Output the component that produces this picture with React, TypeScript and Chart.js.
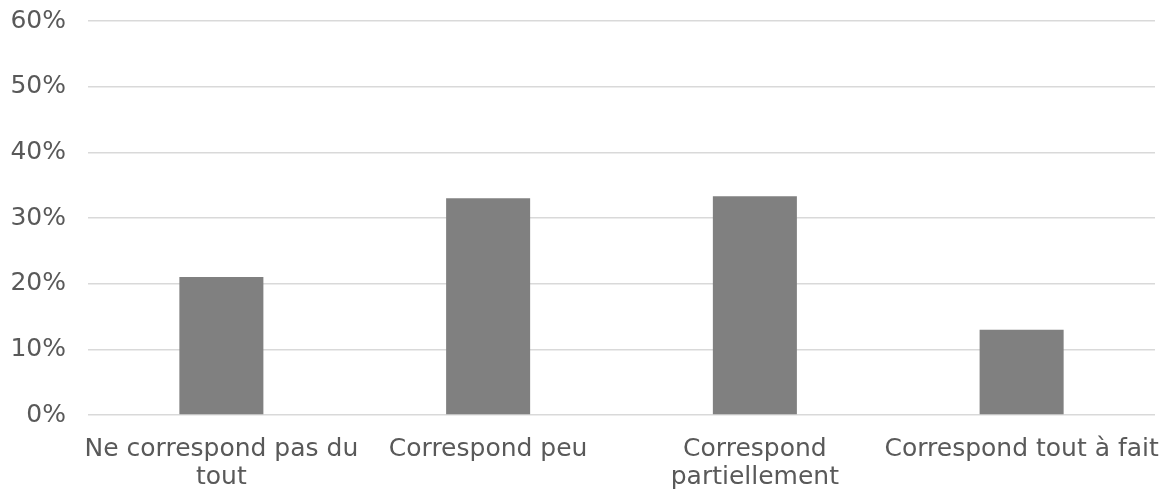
import React, { useEffect, useRef } from "react";
import { Chart, registerables } from "chart.js";

Chart.register(...registerables);

const categories: (string | string[])[] = [
  ["Ne correspond pas du", "tout"],
  "Correspond peu",
  ["Correspond", "partiellement"],
  "Correspond tout à fait",
];
const values: number[] = [21, 33, 33.3, 13];
const yTicks: number[] = [0, 10, 20, 30, 40, 50, 60];

export default function App() {
  const ref = useRef<HTMLCanvasElement | null>(null);
  useEffect(() => {
    if (!ref.current) return;
    const font = { family: "'DejaVu Sans', Verdana, sans-serif", size: 25, lineHeight: 1.12 };
    const chart = new Chart(ref.current, {
      type: "bar",
      data: {
        labels: categories,
        datasets: [
          {
            data: values,
            backgroundColor: "#808080",
            borderWidth: 0,
            categoryPercentage: 1,
            barPercentage: 0.315,
          },
        ],
      },
      options: {
        animation: false,
        responsive: false,
        maintainAspectRatio: false,
        layout: { padding: { top: 21, right: 8, left: 0, bottom: 0 } },
        plugins: { legend: { display: false }, tooltip: { enabled: false } },
        scales: {
          x: {
            grid: { display: false },
            border: { display: false },
            ticks: {
              color: "#595959",
              font,
              maxRotation: 0,
              autoSkip: false,
              padding: 12,
            },
            afterFit: (s: any) => {
              s.height = 76;
              s.paddingLeft = 0;
              s.paddingRight = 0;
            },
          },
          y: {
            min: 0,
            max: 60,
            afterBuildTicks: (s: any) => {
              s.ticks = yTicks.map((v) => ({ value: v }));
            },
            grid: { color: "#d9d9d9", lineWidth: 1.5, drawTicks: false },
            border: { display: false },
            ticks: {
              color: "#595959",
              font,
              padding: 22,
              callback: (v: any) => `${v}%`,
            },
            afterFit: (s: any) => {
              s.width = 88;
              s.paddingTop = 0;
              s.paddingBottom = 0;
            },
          },
        },
      },
    });
    return () => chart.destroy();
  }, []);
  return (
    <div style={{ position: "fixed", left: 0, top: 0, width: 1163, height: 491, background: "#fff" }}>
      <canvas ref={ref} width={1163} height={491} />
    </div>
  );
}
